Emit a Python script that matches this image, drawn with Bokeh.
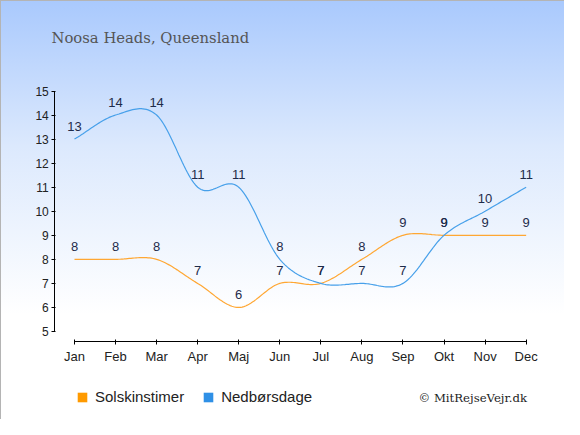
import numpy as np
from bokeh.plotting import figure
from bokeh.models import Range1d, FixedTicker, Legend, LegendItem, ColumnDataSource, Label
from bokeh.core.properties import value
from bokeh.embed import file_html
from bokeh.resources import INLINE

months = ["Jan", "Feb", "Mar", "Apr", "Maj", "Jun", "Jul", "Aug", "Sep", "Okt", "Nov", "Dec"]
sun = [8, 8, 8, 7, 6, 7, 7, 8, 9, 9, 9, 9]
rain = [13, 14, 14, 11, 11, 8, 7, 7, 7, 9, 10, 11]
y_ticks = [5, 6, 7, 8, 9, 10, 11, 12, 13, 14, 15]
series_names = ["Solskinstimer", "Nedbørsdage"]

SUN_COL = "#ffa733"
RAIN_COL = "#47a0ea"
SUN_LEG = "#ff9a00"
RAIN_LEG = "#2f90e6"
LABEL_COL = "#1e2b4a"


def smooth(vals, n=24):
    p = np.array(vals, dtype=float)
    N = len(p)
    m = np.zeros(N)
    m[1:-1] = (p[2:] - p[:-2]) / 2.0
    m[0] = p[1] - p[0]
    m[-1] = p[-1] - p[-2]
    xs, ys = [], []
    for i in range(N - 1):
        t = np.linspace(0, 1, n, endpoint=(i == N - 2))
        h00 = 2 * t**3 - 3 * t**2 + 1
        h10 = t**3 - 2 * t**2 + t
        h01 = -2 * t**3 + 3 * t**2
        h11 = t**3 - t**2
        ys.extend(h00 * p[i] + h10 * m[i] + h01 * p[i + 1] + h11 * m[i + 1])
        xs.extend(i + t)
    return xs, ys


x_idx = list(range(len(months)))

W, H = 564, 419
p = figure(width=W, height=H, output_backend="svg", toolbar_location=None,
           x_range=Range1d(-1.8022, 11.934), y_range=Range1d(1.341, 18.763),
           min_border_left=0, min_border_right=0, min_border_top=0, min_border_bottom=0)
p.styles = {"background-image": "linear-gradient(to bottom, #a9c9fd 0%, #dce9fd 35%, #ffffff 75%)",
            "box-shadow": "inset 1px 1px 0 #b4b4b4"}
p.background_fill_alpha = 0
p.border_fill_alpha = 0
p.outline_line_color = None
p.grid.visible = False

sx, sy = smooth(sun)
rx, ry = smooth(rain)
p.line(sx, sy, line_color=SUN_COL, line_width=1.2)
p.line(rx, ry, line_color=RAIN_COL, line_width=1.2)

src = ColumnDataSource(dict(x=x_idx, sun=sun, rain=rain,
                            sun_t=[str(v) for v in sun], rain_t=[str(v) for v in rain]))
for col, tcol in (("sun", "sun_t"), ("rain", "rain_t")):
    p.text(x="x", y=col, text=tcol, source=src, y_offset=-13,
           text_align="center", text_baseline="middle",
           text_font=value("Liberation Sans"), text_font_size="13px", text_color=LABEL_COL)

xa = p.xaxis[0]
xa.fixed_location = 4.584
xa.ticker = FixedTicker(ticks=x_idx)
xa.major_label_overrides = {i: m for i, m in enumerate(months)}
xa.bounds = (0, 11)
xa.minor_tick_line_color = None
xa.major_tick_in = 2
xa.major_tick_out = 3
xa.major_label_standoff = 4
xa.major_label_text_font = "Liberation Sans"
xa.major_label_text_font_size = "13px"
xa.major_label_text_color = "#222222"
xa.axis_line_color = "#000000"

ya = p.yaxis[0]
ya.fixed_location = -0.48
ya.ticker = FixedTicker(ticks=y_ticks)
ya.bounds = (5, 15)
ya.minor_tick_line_color = None
ya.major_tick_in = 1
ya.major_tick_out = 3
ya.major_label_standoff = 3
ya.major_label_text_font = "Liberation Sans"
ya.major_label_text_font_size = "12px"
ya.major_label_text_color = "#222222"
ya.axis_line_color = "#000000"

# legend (swatches only; the renderers hold a single empty row)
nan = [float("nan")]
r_sun = p.quad(left=nan, right=nan, top=nan, bottom=nan, fill_color=SUN_LEG, line_color=None)
r_rain = p.quad(left=nan, right=nan, top=nan, bottom=nan, fill_color=RAIN_LEG, line_color=None)
legend = Legend(items=[LegendItem(label=series_names[0], renderers=[r_sun]),
                       LegendItem(label=series_names[1], renderers=[r_rain])],
                orientation="horizontal", location=(76, 14),
                glyph_width=12, glyph_height=12, label_standoff=7, spacing=18,
                padding=0, margin=0, border_line_alpha=0, background_fill_alpha=0,
                label_text_font="Liberation Sans", label_text_font_size="15px",
                label_text_color="#222222")
p.add_layout(legend, "center")

p.add_layout(Label(x=51, y=381.7, x_units="screen", y_units="screen",
                   text="Noosa Heads, Queensland", text_font="DejaVu Serif",
                   text_font_size="14.8px", text_color="#555555", text_baseline="alphabetic"))
p.add_layout(Label(x=418, y=22, x_units="screen", y_units="screen",
                   text="© MitRejseVejr.dk", text_font="DejaVu Serif",
                   text_font_size="11.7px", text_color="#222222", text_baseline="middle"))

open("out.html", "w").write(file_html(p, INLINE))
